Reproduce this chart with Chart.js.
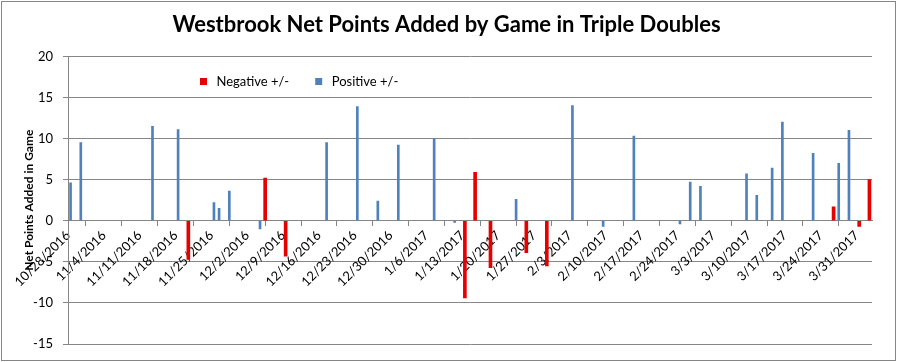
<!DOCTYPE html>
<html>
<head>
<meta charset="utf-8">
<script src="https://cdn.jsdelivr.net/npm/chart.js@4"></script>
<style>
  html, body { margin: 0; padding: 0; background: #fff; }
  #wrap { position: relative; width: 897px; height: 362px; }
  #frame { position: absolute; left: 1px; top: 1px; width: 893px; height: 358px; border: 1px solid #868686; pointer-events: none; }
  canvas { position: absolute; left: 0; top: 0; }
</style>
</head>
<body>
<div id="wrap">
  <canvas id="chart" width="897" height="362"></canvas>
  <div id="frame"></div>
</div>
<script>
// weekly tick labels on the date axis
const tickLabels = ['10/28/2016', '11/4/2016', '11/11/2016', '11/18/2016', '11/25/2016', '12/2/2016',
    '12/9/2016', '12/16/2016', '12/23/2016', '12/30/2016', '1/6/2017', '1/13/2017', '1/20/2017',
    '1/27/2017', '2/3/2017', '2/10/2017', '2/17/2017', '2/24/2017', '3/3/2017', '3/10/2017',
    '3/17/2017', '3/24/2017', '3/31/2017'];
const axisEnd = '4/3/2017';

// games where the team +/- was negative
const negDates = ['11/20/2016', '12/5/2016', '12/9/2016', '1/13/2017', '1/15/2017', '1/18/2017',
    '1/25/2017', '1/29/2017', '3/26/2017', '3/31/2017', '4/2/2017'];
const negValues = [-4.7, 5.2, -4.3, -9.4, 5.9, -5.7, -3.9, -5.5, 1.7, -0.7, 5.0];

// games where the team +/- was positive
const posDates = ['10/28/2016', '10/30/2016', '11/13/2016', '11/18/2016', '11/25/2016', '11/26/2016',
    '11/28/2016', '12/4/2016', '12/17/2016', '12/23/2016', '12/27/2016', '12/31/2016', '1/7/2017',
    '1/11/2017', '1/23/2017', '2/3/2017', '2/9/2017', '2/15/2017', '2/24/2017', '2/26/2017',
    '2/28/2017', '3/9/2017', '3/11/2017', '3/14/2017', '3/16/2017', '3/22/2017', '3/27/2017', '3/29/2017'];
const posValues = [4.6, 9.5, 11.5, 11.1, 2.2, 1.5, 3.6, -1.0, 9.5, 13.9, 2.4, 9.2, 10.0,
    -0.2, 2.6, 14.0, -0.7, 10.3, -0.4, 4.7, 4.2, 5.7, 3.1, 6.4, 12.0, 8.2, 7.0, 11.0];

const yTicks = [-15, -10, -5, 0, 5, 10, 15, 20];

function dayOf(s) {
    const [m, d, y] = s.split('/').map(Number);
    const [m0, d0, y0] = tickLabels[0].split('/').map(Number);
    return Math.round((Date.UTC(y, m - 1, d) - Date.UTC(y0, m0 - 1, d0)) / 86400000);
}

// each game sits in the middle of its one-day slot
function toPoints(dates, values) {
    return dates.map((d, i) => ({ x: dayOf(d) + 0.5, y: values[i] }));
}

const gridColor = '#868686';
Chart.defaults.font.family = 'Lato, "Liberation Sans", sans-serif';
Chart.defaults.color = '#000';

// legend sits inside the plot, left of centre; title is centred on the whole frame
const placer = {
    id: 'placer',
    afterLayout(chart) {
        const lg = chart.legend;
        if (lg) {
            const pad = lg.options.labels.padding;
            const w = chart.chartArea.right - chart.chartArea.left;
            lg.left = 197 - pad;
            lg.right = lg.left + w;
            lg.width = w;
            lg.top = 75 - pad;
            lg.bottom = lg.top + 70;
            lg.height = 70;
        }
        const tb = chart.titleBlock;
        if (tb) {
            tb.left = 0;
            tb.right = chart.width - 4;
            tb.width = tb.right;
        }
    }
};

new Chart(document.getElementById('chart'), {
    type: 'bar',
    data: {
        datasets: [
            {
                label: 'Negative +/-',
                data: toPoints(negDates, negValues),
                backgroundColor: '#e60000',
                barThickness: 3,
                grouped: false
            },
            {
                label: 'Positive +/-',
                data: toPoints(posDates, posValues),
                backgroundColor: '#4f81bd',
                barThickness: 2,
                grouped: false
            }
        ]
    },
    options: {
        responsive: false,
        animation: false,
        layout: { padding: { left: 0, right: 25, top: 0, bottom: 18 } },
        plugins: {
            title: {
                display: true,
                text: 'Westbrook Net Points Added by Game in Triple Doubles',
                font: { size: 22, weight: 'bold' },
                color: '#000',
                padding: { top: 12, bottom: 17 }
            },
            legend: {
                position: 'top',
                align: 'start',
                maxHeight: 1,
                labels: {
                    usePointStyle: true,
                    pointStyle: 'rect',
                    boxWidth: 13,
                    boxHeight: 7,
                    padding: 23,
                    font: { size: 13 },
                    color: '#000'
                }
            },
            tooltip: { enabled: false }
        },
        scales: {
            x: {
                type: 'linear',
                position: { y: 0 },
                min: 0,
                max: dayOf(axisEnd),
                offset: false,
                afterBuildTicks: (scale) => {
                    scale.ticks = tickLabels.map((l) => ({ value: dayOf(l) }));
                },
                ticks: {
                    autoSkip: false,
                    minRotation: 45,
                    maxRotation: 45,
                    padding: 2,
                    font: { size: 13 },
                    callback: (v, i) => tickLabels[i]
                },
                grid: { drawOnChartArea: false, drawTicks: true, tickLength: 5, color: gridColor },
                border: { display: true, color: gridColor }
            },
            y: {
                min: yTicks[0],
                max: yTicks[yTicks.length - 1],
                afterBuildTicks: (scale) => {
                    scale.ticks = yTicks.map((v) => ({ value: v }));
                },
                afterFit: (scale) => { scale.width = 68; },
                ticks: { padding: 10, font: { size: 13 } },
                grid: { color: gridColor, tickLength: 5 },
                border: { display: true, color: gridColor },
                title: {
                    display: true,
                    text: 'Net Points Added in Game',
                    font: { size: 12, weight: 'bold' },
                    color: '#000',
                    padding: { top: 22, bottom: 0 }
                }
            }
        }
    },
    plugins: [placer]
});
</script>
</body>
</html>
